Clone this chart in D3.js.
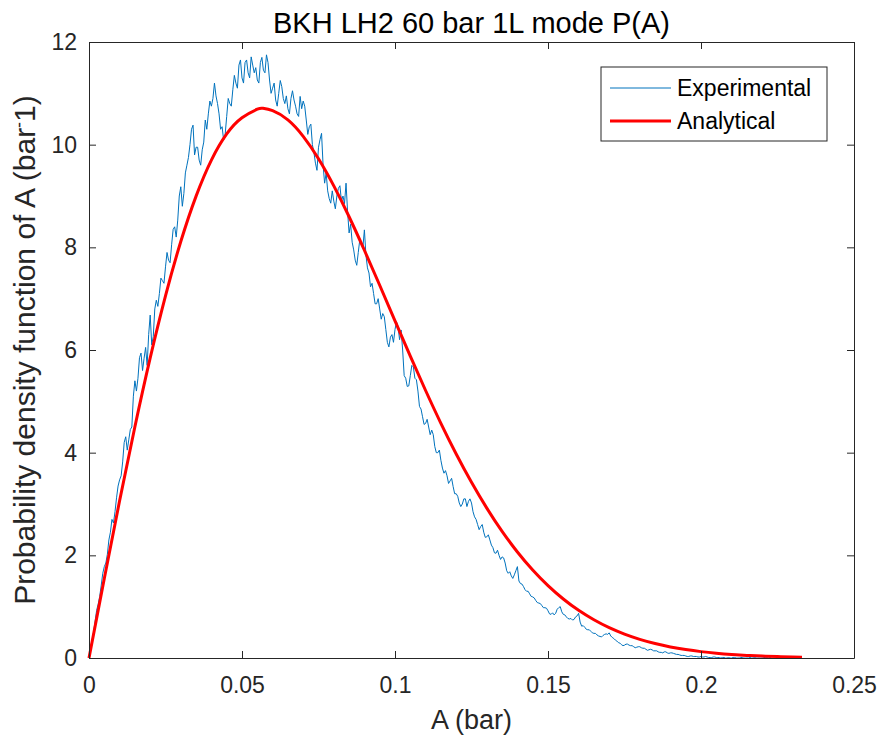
<!DOCTYPE html>
<html>
<head>
<meta charset="utf-8">
<script src="https://cdn.jsdelivr.net/npm/d3@7"></script>
<style>
  body { margin: 0; background: #fff; }
  text { font-family: "Liberation Sans", Arial, sans-serif; fill: #262626; }
</style>
</head>
<body>
<svg id="svg1" width="882" height="747"></svg>
<script>
// ---- data ----
var xTicks = [0, 0.05, 0.1, 0.15, 0.2, 0.25];
var xTickLabels = ["0", "0.05", "0.1", "0.15", "0.2", "0.25"];
var yTicks = [0, 2, 4, 6, 8, 10, 12];

// experimental histogram, values at whole bins of 0.001 bar (0, 0.001, ...)
var expStep = 0.001;
var expValues = [
  0, 0.35, 0.72, 1.05, 1.42, 1.78, 2.02, 2.45, 2.63, 3.12,
  3.47, 3.82, 4.31, 4.25, 4.5, 5.4, 5.45, 5.94, 5.84, 5.7,
  6.68, 6.26, 6.97, 7.1, 7.35, 7.62, 7.75, 8.05, 8.4, 8.53,
  9.18, 9.05, 9.6, 10.0, 10.38, 9.95, 9.7, 9.9, 10.48, 10.6,
  10.75, 11.2, 10.8, 10.3, 10.09, 10.55, 10.8, 11.07, 11.2, 11.55,
  11.3, 11.6, 11.4, 11.71, 11.4, 11.26, 11.6, 11.45, 11.75, 11.26,
  11.1, 10.87, 11.0, 11.13, 10.8, 10.7, 10.9, 10.87, 10.6, 10.94,
  10.85, 10.48, 10.35, 10.0, 9.64, 9.95, 10.22, 9.25, 9.1, 8.86,
  8.9, 9.0, 9.2, 9.0, 9.25, 8.28, 8.1, 7.75, 7.9, 8.1,
  8.34, 7.6, 7.23, 7.1, 6.9, 6.8, 6.71, 6.4, 6.06, 6.3,
  6.4, 6.45, 6.39, 5.5, 5.29, 5.5, 5.67, 5.42, 4.9, 4.7,
  4.57, 4.5, 4.44, 4.12, 4.0, 3.85, 3.6, 3.55, 3.45, 3.34,
  3.2, 3.02, 3.0, 3.1, 3.05, 3.02, 2.75, 2.6, 2.56, 2.45,
  2.36, 2.3, 2.15, 2.04, 2.0, 1.97, 1.85, 1.65, 1.6, 1.62,
  1.78, 1.45, 1.39, 1.3, 1.25, 1.19, 1.12, 1.07, 1.02, 0.98,
  0.92, 0.85, 0.84, 0.95, 1.0, 0.85, 0.8, 0.76, 0.74, 0.8,
  0.87, 0.62, 0.6, 0.55, 0.52, 0.48, 0.45, 0.42, 0.44, 0.47,
  0.49, 0.4, 0.35, 0.3, 0.26, 0.25, 0.27, 0.24, 0.22, 0.21,
  0.22, 0.19, 0.17, 0.16, 0.16, 0.14, 0.12, 0.11, 0.12, 0.1,
  0.1, 0.09, 0.07, 0.06, 0.05, 0.04, 0.03, 0.04, 0.03, 0.02,
  0.03, 0.02, 0.02, 0.01, 0.02, 0.01, 0.01, 0.01, 0, 0.01,
  0, 0.01, 0, 0.01, 0, 0, 0.01, 0, 0, 0,
  0, 0.01, 0.02, 0
];
// values at the half bins (0.0005, 0.0015, ...)
var expHalf = [
  0.2, 0.5, 0.93, 1.2, 1.65, 1.85, 2.3, 2.7, 2.85, 3.35,
  3.55, 4.2, 4.05, 4.45, 5.1, 5.2, 5.85, 5.6, 6.05, 6.3,
  6.1, 6.8, 6.85, 7.4, 7.3, 7.9, 7.7, 8.35, 8.2, 9.0,
  8.8, 9.45, 9.75, 10.3, 9.8, 9.95, 9.6, 10.05, 10.3, 10.85,
  10.9, 10.95, 10.6, 10.35, 10.2, 10.9, 10.75, 11.35, 11.1, 11.65,
  11.2, 11.65, 11.3, 11.55, 11.5, 11.2, 11.7, 11.4, 11.6, 11.0,
  11.2, 10.75, 11.25, 10.9, 10.95, 10.6, 11.05, 10.75, 10.55, 10.7,
  10.75, 10.2, 10.4, 9.85, 9.5, 10.1, 9.6, 9.45, 8.95, 9.1,
  8.75, 9.15, 8.9, 8.85, 8.7, 8.45, 7.95, 7.65, 8.15, 8.0,
  7.85, 7.5, 7.3, 6.9, 7.0, 6.6, 6.65, 6.15, 6.25, 6.15,
  6.55, 6.2, 6.0, 5.45, 5.3, 5.7, 5.45, 5.2, 4.85, 4.55,
  4.65, 4.35, 4.35, 4.0, 4.05, 3.7, 3.65, 3.4, 3.5, 3.2,
  3.15, 2.95, 3.1, 2.95, 3.1, 2.85, 2.7, 2.5, 2.6, 2.35,
  2.4, 2.2, 2.05, 2.1, 1.92, 1.95, 1.7, 1.68, 1.55, 1.7,
  1.5, 1.44, 1.33, 1.3, 1.2, 1.17, 1.08, 1.06, 0.98, 0.97,
  0.86, 0.88, 0.87, 0.98, 0.9, 0.84, 0.77, 0.77, 0.75, 0.82,
  0.7, 0.63, 0.56, 0.55, 0.49, 0.48, 0.43, 0.41, 0.46, 0.46,
  0.43, 0.38, 0.33, 0.29, 0.24, 0.27, 0.25, 0.24, 0.2, 0.22,
  0.2, 0.19, 0.15, 0.17, 0.14, 0.14, 0.11, 0.1, 0.12, 0.09,
  0.1, 0.08, 0.07, 0.05, 0.05, 0.03, 0.04, 0.03, 0.03, 0.02,
  0.02, 0.03, 0.01, 0.01, 0.02, 0.01, 0, 0.01, 0, 0,
  0.01, 0, 0, 0.01, 0, 0, 0, 0.01, 0, 0,
  0.01, 0.01, 0.01
];

// analytical curve
var anaA = [0, 0.005, 0.01, 0.015, 0.02, 0.025, 0.03, 0.035, 0.04, 0.045,
  0.05, 0.055, 0.0567, 0.06, 0.065, 0.07, 0.075, 0.08, 0.085, 0.09, 0.095,
  0.1, 0.105, 0.11, 0.115, 0.12, 0.125, 0.13, 0.135, 0.14, 0.145,
  0.15, 0.155, 0.16, 0.165, 0.17, 0.175, 0.18, 0.185, 0.19, 0.195,
  0.2, 0.205, 0.21, 0.215, 0.22, 0.225, 0.23, 0.233];
var anaP = [0, 1.549, 3.062, 4.505, 5.846, 7.056, 8.113, 8.998, 9.700, 10.209,
  10.525, 10.690, 10.710, 10.662, 10.482, 10.162, 9.726, 9.197, 8.596, 7.943, 7.261,
  6.567, 5.879, 5.211, 4.572, 3.975, 3.423, 2.920, 2.467, 2.066, 1.714,
  1.410, 1.149, 0.928, 0.744, 0.590, 0.465, 0.363, 0.281, 0.215, 0.164,
  0.124, 0.093, 0.069, 0.051, 0.037, 0.027, 0.019, 0.016];

var seriesNames = ["Experimental", "Analytical"];
var seriesColors = ["#0072BD", "#FF0000"];

// ---- layout ----
var svg = d3.select("#svg1");
var margin = {top: 42, right: 28, bottom: 89, left: 89};
var width = +svg.attr("width") - margin.left - margin.right,
    height = +svg.attr("height") - margin.top - margin.bottom;

var x = d3.scaleLinear().domain([0, 0.25]).range([0, width]),
    y = d3.scaleLinear().domain([0, 12]).range([height, 0]);

var g = svg.append("g")
    .attr("transform", "translate(" + margin.left + "," + margin.top + ")");

// interleave whole and half bins
var expData = [];
expValues.forEach(function(v, i) {
  expData.push({a: i * expStep, p: v});
  if (i < expHalf.length) expData.push({a: (i + 0.5) * expStep, p: expHalf[i]});
});
var anaData = anaA.map(function(a, i) { return {a: a, p: anaP[i]}; });

var line = d3.line()
    .x(function(d) { return x(d.a); })
    .y(function(d) { return y(d.p); });

var smooth = d3.line()
    .curve(d3.curveNatural)
    .x(function(d) { return x(d.a); })
    .y(function(d) { return y(d.p); });

g.append("path")
    .datum(expData)
    .attr("fill", "none")
    .attr("stroke", seriesColors[0])
    .attr("stroke-width", 1)
    .attr("d", line);

g.append("path")
    .datum(anaData)
    .attr("fill", "none")
    .attr("stroke", seriesColors[1])
    .attr("stroke-width", 3)
    .attr("d", smooth);

// ---- axes (box, ticks inside) ----
var axisColor = "#262626";
function styleAxis(sel) {
  sel.select(".domain").attr("stroke", axisColor);
  sel.selectAll(".tick line").attr("stroke", axisColor);
  sel.selectAll(".tick text").attr("fill", axisColor).style("font-size", "23px")
    .style("font-family", "'Liberation Sans', Arial, sans-serif");
}

var xAxis = d3.axisBottom(x).tickValues(xTicks)
    .tickFormat(function(d, i) { return xTickLabels[i]; })
    .tickSizeInner(-7).tickSizeOuter(0).tickPadding(19);
g.append("g")
    .attr("transform", "translate(0," + height + ")")
    .call(xAxis).call(styleAxis);

g.append("g")
    .call(d3.axisTop(x).tickValues(xTicks).tickFormat("").tickSizeInner(-7).tickSizeOuter(0))
    .call(styleAxis);

var yAxis = d3.axisLeft(y).tickValues(yTicks)
    .tickSizeInner(-7).tickSizeOuter(0).tickPadding(12);
g.append("g").call(yAxis).call(styleAxis);

g.append("g")
    .attr("transform", "translate(" + width + ",0)")
    .call(d3.axisRight(y).tickValues(yTicks).tickFormat("").tickSizeInner(-7).tickSizeOuter(0))
    .call(styleAxis);

// ---- title and labels ----
svg.append("text")
    .attr("x", margin.left + width / 2)
    .attr("y", 33)
    .attr("text-anchor", "middle")
    .style("font-size", "29px")
    .style("fill", "#000")
    .text("BKH LH2 60 bar 1L mode P(A)");

svg.append("text")
    .attr("x", margin.left + width / 2)
    .attr("y", 729)
    .attr("text-anchor", "middle")
    .style("font-size", "27px")
    .text("A (bar)");

var ylab = svg.append("text")
    .attr("transform", "translate(35," + (margin.top + height / 2) + ") rotate(-90)")
    .attr("text-anchor", "middle")
    .style("font-size", "30px");
ylab.append("tspan").text("Probability density function of A (bar");
ylab.append("tspan").attr("dy", -10).style("font-size", "18px").text("-");
ylab.append("tspan").attr("dy", 10).text("1)");

// ---- legend ----
var legend = svg.append("g").attr("transform", "translate(601,67)");
legend.append("rect")
    .attr("width", 226).attr("height", 74)
    .attr("fill", "#fff").attr("stroke", axisColor).attr("stroke-width", 1);

seriesNames.forEach(function(name, i) {
  var ly = 21 + i * 33;
  legend.append("line")
      .attr("x1", 9).attr("x2", 70).attr("y1", ly).attr("y2", ly)
      .attr("stroke", seriesColors[i]).attr("stroke-width", i === 0 ? 1 : 3);
  legend.append("text")
      .attr("x", 76).attr("y", ly + 8)
      .style("font-size", "23px")
      .style("fill", "#000")
      .text(name);
});
</script>
</body>
</html>
